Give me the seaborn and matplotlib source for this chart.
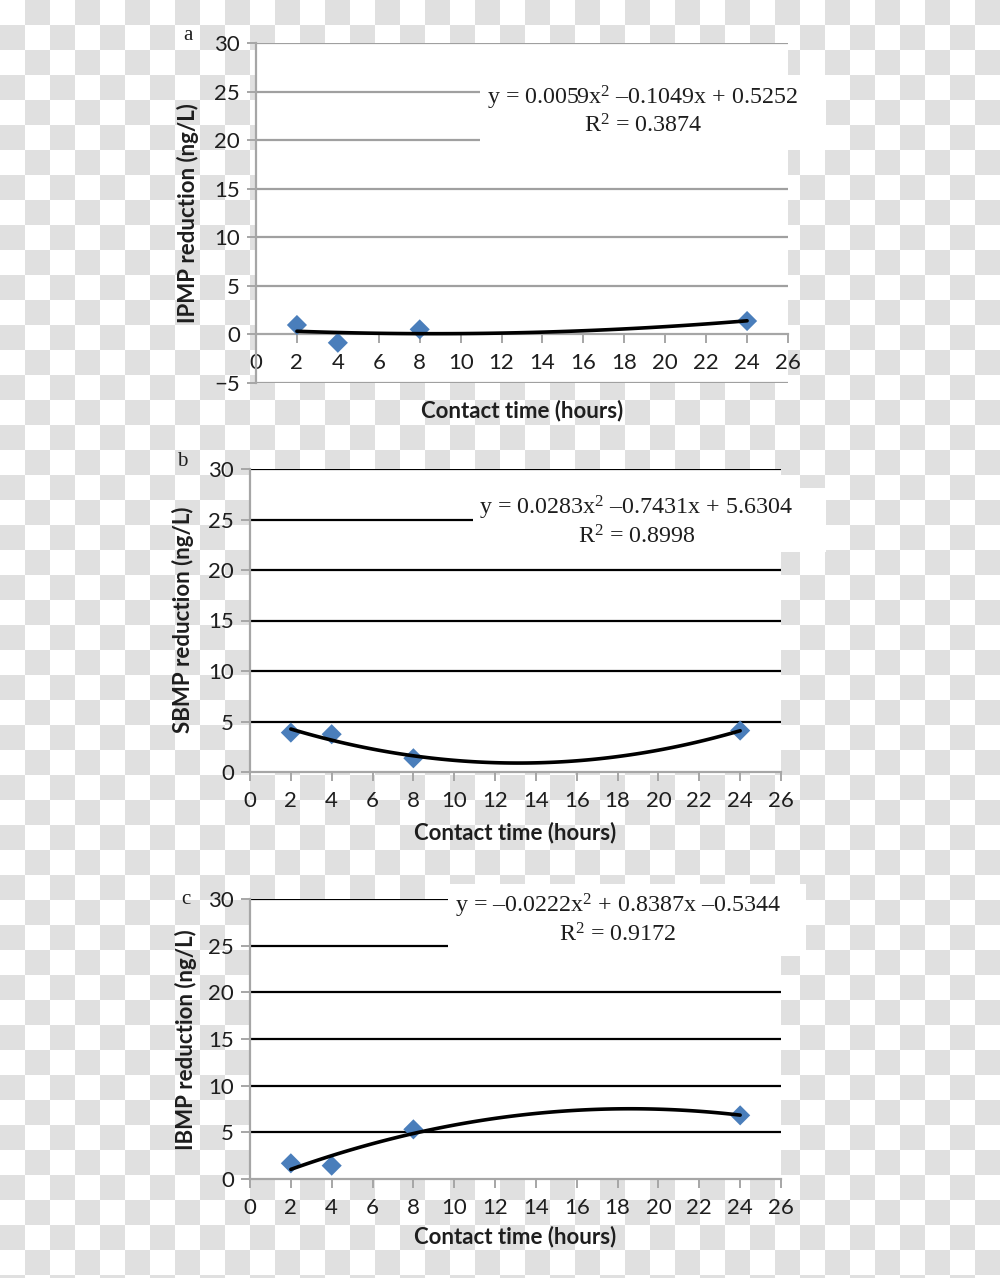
import numpy as np
import matplotlib
matplotlib.use("Agg")
import matplotlib.pyplot as plt
import seaborn as sns
from matplotlib.patches import Rectangle

# ---------------- data ----------------
contact_time = [2, 4, 8, 24]
ipmp_reduction = [0.97, -0.86, 0.52, 1.38]
sbmp_reduction = [3.90, 3.74, 1.36, 4.10]
ibmp_reduction = [1.68, 1.43, 5.32, 6.82]

panel_letters = ["a", "b", "c"]
y_labels = ["IPMP reduction (ng/L)", "SBMP reduction (ng/L)", "IBMP reduction (ng/L)"]
x_label = "Contact time (hours)"
equations = ["y = 0.0059x$^{2}$ \u20130.1049x + 0.5252",
             "y = 0.0283x$^{2}$ \u20130.7431x + 5.6304",
             "y = \u20130.0222x$^{2}$ + 0.8387x \u20130.5344"]
r2_labels = ["R$^{2}$ = 0.3874", "R$^{2}$ = 0.8998", "R$^{2}$ = 0.9172"]
x_ticks = list(range(0, 27, 2))
y_ticks_a = list(range(-5, 31, 5))
y_ticks_bc = list(range(0, 31, 5))

# ---------------- style ----------------
sns.set_theme(style="white")
plt.rcParams["font.family"] = ["Lato", "DejaVu Sans"]
plt.rcParams["mathtext.fontset"] = "custom"
plt.rcParams["mathtext.rm"] = "Liberation Serif"
plt.rcParams["mathtext.default"] = "regular"

W, H = 1000, 1278
fig = plt.figure(figsize=(W / 100, H / 100), dpi=100)

# checkerboard background (transparency pattern of the original)
yy, xx = np.indices((H, W))
cb = np.where(((yy // 25) + (xx // 25)) % 2 == 0, 1.0, 224 / 255)
fig.figimage(np.dstack([cb, cb, cb]), xo=0, yo=0, origin="upper", zorder=-1)

def fx(px):
    return px / W

def fy(py):
    return 1 - py / H

marker_color = "#4A7EBB"
axis_grey = "#A6A6A6"
text_col = "#1E1E1E"

panels = [
    dict(rect=(256, 43, 788, 383), y=ipmp_reduction, ylim=(-5, 30), yticks=y_ticks_a,
         grid="#A0A0A0", ylab=(188, 213), xlab=(522, 411), letter=(188, 36),
         box=(480, 75, 826, 150), eq1=(642, 98), eq2=(643, 126)),
    dict(rect=(250, 469, 781, 772), y=sbmp_reduction, ylim=(0, 30), yticks=y_ticks_bc,
         grid="black", ylab=(183, 620), xlab=(515, 833), letter=(182, 462),
         box=(473, 488, 826, 552), eq1=(636, 508), eq2=(637, 537)),
    dict(rect=(250, 899, 781, 1179), y=ibmp_reduction, ylim=(0, 30), yticks=y_ticks_bc,
         grid="black", ylab=(186, 1040), xlab=(515, 1237), letter=(186, 899),
         box=(448, 884, 806, 956), eq1=(618, 906), eq2=(617, 935)),
]

for i, p in enumerate(panels):
    x0, y0, x1, y1 = p["rect"]
    ax = fig.add_axes([fx(x0), fy(y1), fx(x1) - fx(x0), fy(y0) - fy(y1)])
    ax.set_facecolor("white")

    sns.scatterplot(x=contact_time, y=p["y"], ax=ax, marker="D", s=105,
                    color=marker_color, edgecolor="none", linewidth=0, zorder=3)
    sns.regplot(x=contact_time, y=p["y"], ax=ax, order=2, ci=None, scatter=False,
                truncate=True, color="black", line_kws=dict(lw=2.6, zorder=4))

    ax.set_xlim(0, 26)
    ax.set_ylim(*p["ylim"])
    ax.set_xticks(x_ticks)
    ax.set_yticks(p["yticks"])

    for s in ["top", "right"]:
        ax.spines[s].set_visible(False)
    ax.spines["left"].set_color(axis_grey)
    ax.spines["left"].set_linewidth(1.6)
    ax.spines["bottom"].set_color(axis_grey)
    ax.spines["bottom"].set_linewidth(1.6)
    ax.spines["bottom"].set_position(("data", 0))
    ax.spines["bottom"].set_zorder(2.6)

    ax.grid(axis="y", color=p["grid"], lw=1.6)
    ax.grid(axis="x", visible=False)
    ax.set_axisbelow(True)
    for val, tick in zip(p["yticks"], ax.yaxis.get_major_ticks()):
        if val == 0:
            tick.gridline.set_visible(False)

    ax.tick_params(axis="both", which="major", direction="out", length=6.5, width=1.4,
                   color=axis_grey, labelsize=16, labelcolor=text_col,
                   left=True, bottom=True)
    ax.tick_params(axis="x", pad=7)
    ax.tick_params(axis="y", pad=5)

    ax.set_xlabel(x_label, fontsize=16, fontweight="bold", color=text_col)
    ax.set_ylabel(y_labels[i], fontsize=16, fontweight="bold", color=text_col)
    ax.xaxis.label.set_va("center")
    ax.yaxis.label.set_va("center")
    ax.xaxis.set_label_coords((p["xlab"][0] - x0) / (x1 - x0), (y1 - p["xlab"][1]) / (y1 - y0))
    ax.yaxis.set_label_coords((p["ylab"][0] - x0) / (x1 - x0), (y1 - p["ylab"][1]) / (y1 - y0))

    # white box behind trendline equation
    bx0, by0, bx1, by1 = p["box"]
    fig.add_artist(Rectangle((fx(bx0), fy(by1)), fx(bx1) - fx(bx0), fy(by0) - fy(by1),
                             transform=fig.transFigure, facecolor="white",
                             edgecolor="none", zorder=1))
    fig.text(fx(p["eq1"][0]), fy(p["eq1"][1]), equations[i], ha="center", va="center",
             fontsize=17.3, family="Liberation Serif", color=text_col, zorder=2)
    fig.text(fx(p["eq2"][0]), fy(p["eq2"][1]), r2_labels[i], ha="center", va="center",
             fontsize=17.3, family="Liberation Serif", color=text_col, zorder=2)

    fig.text(fx(p["letter"][0]), fy(p["letter"][1]), panel_letters[i], ha="center",
             va="center", fontsize=15, family="Liberation Serif", color=text_col, zorder=2)

fig.savefig("out.png", dpi=100)
